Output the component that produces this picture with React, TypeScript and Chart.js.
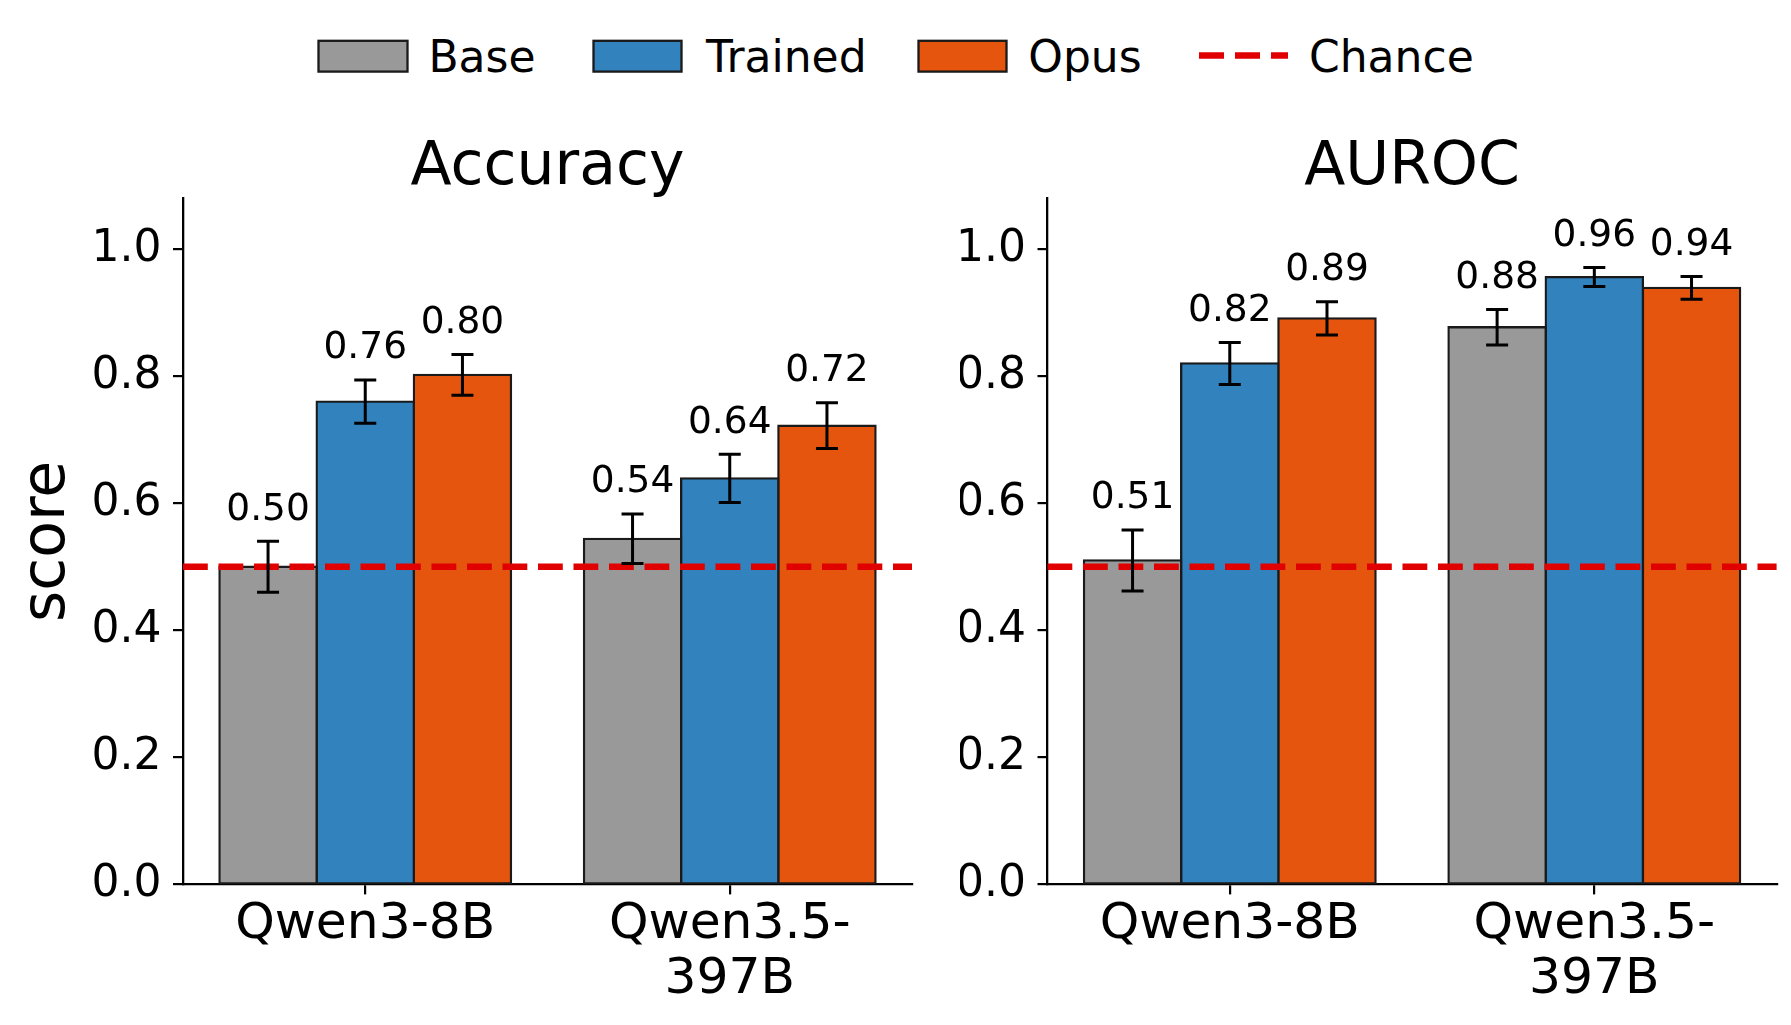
import { useEffect, useRef } from "react"
import { Chart, registerables, type ChartConfiguration, type Plugin } from "chart.js"

Chart.register(...registerables)

// categories
const models: (string | string[])[] = ["Qwen3-8B", ["Qwen3.5-", "397B"]]
const seriesNames = ["Base", "Trained", "Opus"]
const seriesColors = ["#999999", "#3182bd", "#e6550d"]

// Accuracy panel
const accBase = [0.5, 0.544]
const accBaseErr = [0.04, 0.039]
const accTrained = [0.76, 0.639]
const accTrainedErr = [0.034, 0.038]
const accOpus = [0.802, 0.722]
const accOpusErr = [0.032, 0.036]

// AUROC panel
const aurocBase = [0.51, 0.877]
const aurocBaseErr = [0.048, 0.028]
const aurocTrained = [0.82, 0.956]
const aurocTrainedErr = [0.033, 0.015]
const aurocOpus = [0.891, 0.939]
const aurocOpusErr = [0.026, 0.018]

const chance = 0.5
const yTicks = [0, 0.2, 0.4, 0.6, 0.8, 1.0]
const yMax = 1.08

const FONT = "'DejaVu Sans', sans-serif"
const EDGE = "#1a1a1a"
const RED = "#e00000"
const FIG_H = 1025

function barExtras(errors: number[][]): Plugin<"bar"> {
  return {
    id: "barExtras",
    afterDatasetsDraw(chart) {
      const { ctx, chartArea } = chart
      const y = chart.scales.y
      ctx.save()

      // chance level
      const yc = y.getPixelForValue(chance)
      ctx.beginPath()
      ctx.setLineDash([24.8, 10.7])
      ctx.lineWidth = 6.7
      ctx.strokeStyle = RED
      ctx.moveTo(chartArea.left, yc)
      ctx.lineTo(chartArea.right, yc)
      ctx.stroke()
      ctx.setLineDash([])

      // error bars + value labels
      chart.data.datasets.forEach((ds, di) => {
        const meta = chart.getDatasetMeta(di)
        meta.data.forEach((bar, i) => {
          const v = ds.data[i] as number
          const e = errors[di][i]
          const x = bar.x
          const top = y.getPixelForValue(v + e)
          const bot = y.getPixelForValue(v - e)
          ctx.strokeStyle = "#000"
          ctx.lineWidth = 3
          ctx.beginPath()
          ctx.moveTo(x, top)
          ctx.lineTo(x, bot)
          ctx.moveTo(x - 11, top)
          ctx.lineTo(x + 11, top)
          ctx.moveTo(x - 11, bot)
          ctx.lineTo(x + 11, bot)
          ctx.stroke()

          ctx.fillStyle = "#000"
          ctx.font = `37.5px ${FONT}`
          ctx.textAlign = "center"
          ctx.textBaseline = "alphabetic"
          ctx.fillText(v.toFixed(2), x, y.getPixelForValue(v + e + 0.02) - 0.236 * 37.5)
        })
      })
      ctx.restore()
    },
  }
}

interface PanelProps {
  title: string
  values: number[][]
  errors: number[][]
  yTitle?: string
  left: number
  width: number
  plotLeft: number
  plotRight: number
}

function Panel({ title, values, errors, yTitle, left, width, plotLeft, plotRight }: PanelProps) {
  const canvasRef = useRef<HTMLCanvasElement>(null)
  const chartRef = useRef<Chart | null>(null)

  useEffect(() => {
    if (!canvasRef.current) return
    if (chartRef.current) chartRef.current.destroy()

    const config: ChartConfiguration<"bar"> = {
      type: "bar",
      data: {
        labels: models,
        datasets: seriesNames.map((name, i) => ({
          label: name,
          data: values[i],
          backgroundColor: seriesColors[i],
          borderColor: EDGE,
          borderWidth: 2.3,
          borderSkipped: false,
          inflateAmount: 1.15,
          categoryPercentage: 0.8,
          barPercentage: 1,
        })),
      },
      options: {
        responsive: false,
        animation: false,
        layout: { padding: { left: 0, right: width - plotRight, top: 141.5, bottom: 0 } },
        plugins: {
          legend: { display: false },
          tooltip: { enabled: false },
          title: {
            display: true,
            fullSize: false,
            text: title,
            color: "#000",
            font: { family: FONT, size: 60, weight: "normal", lineHeight: 0.9 },
            padding: { top: 0, bottom: 2.8 },
          },
        },
        scales: {
          x: {
            type: "category",
            offset: true,
            grid: { offset: false, drawOnChartArea: false, drawTicks: true, tickLength: 10, color: "#000", lineWidth: 2.2 },
            border: { display: true, color: "#000", width: 2.3 },
            ticks: {
              color: "#000",
              font: { family: FONT, size: 50.3, lineHeight: 1.1 },
              padding: 2.8,
              maxRotation: 0,
              autoSkip: false,
            },
            afterFit: (scale) => {
              scale.height = FIG_H - 884.4
            },
          },
          y: {
            min: 0,
            max: yMax,
            grid: { drawOnChartArea: false, drawTicks: true, tickLength: 10, color: "#000", lineWidth: 2.2 },
            border: { display: true, color: "#000", width: 2.3 },
            afterBuildTicks: (scale) => {
              scale.ticks = yTicks.map((v) => ({ value: v }))
            },
            ticks: {
              color: "#000",
              font: { family: FONT, size: 44 },
              padding: 11.5,
              callback: (v) => Number(v).toFixed(1),
            },
            title: {
              display: !!yTitle,
              text: yTitle ?? "",
              color: "#000",
              font: { family: FONT, size: 60, lineHeight: 1.2 },
              padding: { top: 12.2, bottom: 0 },
            },
            afterFit: (scale) => {
              scale.width = plotLeft
            },
          },
        },
      },
      plugins: [barExtras(errors)],
    }

    chartRef.current = new Chart(canvasRef.current, config)
    return () => {
      if (chartRef.current) {
        chartRef.current.destroy()
        chartRef.current = null
      }
    }
  }, [title, values, errors, yTitle, width, plotLeft, plotRight])

  return (
    <div style={{ position: "absolute", left, top: 0, width, height: FIG_H }}>
      <canvas ref={canvasRef} width={width} height={FIG_H} style={{ width, height: FIG_H }} />
    </div>
  )
}

function Legend() {
  const items = [
    { x: 318.5, w: 89, color: seriesColors[0], label: seriesNames[0], tx: 428.4 },
    { x: 593.5, w: 88, color: seriesColors[1], label: seriesNames[1], tx: 706 },
    { x: 918.5, w: 88, color: seriesColors[2], label: seriesNames[2], tx: 1028.3 },
  ]
  return (
    <svg
      width={1791}
      height={110}
      style={{ position: "absolute", left: 0, top: 0 }}
      fontFamily={FONT}
      fontSize={44}
    >
      {items.map((it) => (
        <g key={it.label}>
          <rect x={it.x} y={40.8} width={it.w} height={30.8} fill={it.color} stroke={EDGE} strokeWidth={2.3} />
          <text x={it.tx} y={72.3} fill="#000">
            {it.label}
          </text>
        </g>
      ))}
      <line x1={1199} y1={55.5} x2={1288} y2={55.5} stroke={RED} strokeWidth={6.3} strokeDasharray="25 11" />
      <text x={1309} y={72.3} fill="#000">
        Chance
      </text>
    </svg>
  )
}

export default function App() {
  return (
    <div
      style={{
        position: "absolute",
        left: 0,
        top: 0,
        width: 1791,
        height: FIG_H,
        background: "#fff",
        overflow: "hidden",
      }}
    >
      <Legend />
      <Panel
        title="Accuracy"
        values={[accBase, accTrained, accOpus]}
        errors={[accBaseErr, accTrainedErr, accOpusErr]}
        yTitle="score"
        left={0}
        width={960}
        plotLeft={183}
        plotRight={912}
      />
      <Panel
        title="AUROC"
        values={[aurocBase, aurocTrained, aurocOpus]}
        errors={[aurocBaseErr, aurocTrainedErr, aurocOpusErr]}
        left={960}
        width={831}
        plotLeft={87.5}
        plotRight={816.6}
      />
    </div>
  )
}
